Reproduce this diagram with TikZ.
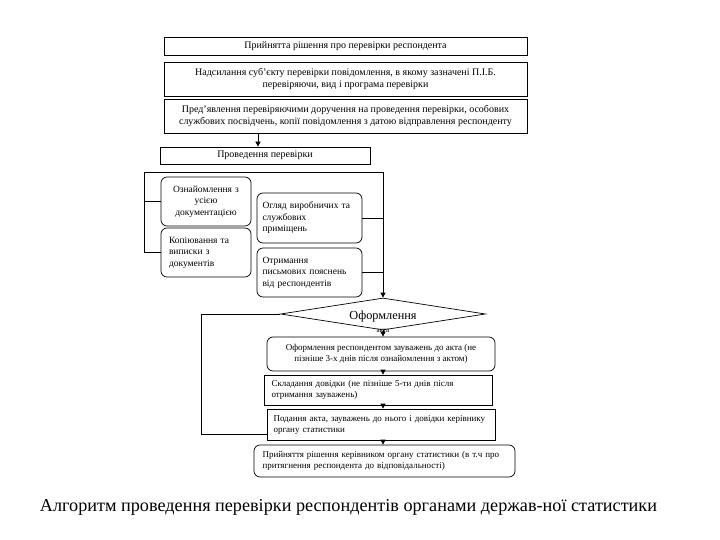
\documentclass[tikz,border=0pt]{standalone}
\usepackage{fontspec}
\setmainfont{Liberation Serif}
\usetikzlibrary{shapes.geometric,arrows.meta,calc}
\tikzset{
  box/.style={draw, line width=0.7pt, inner sep=2pt, align=center, font=\fontsize{10}{12}\selectfont},
  rbox/.style={box, rounded corners=6pt},
  smallf/.style={font=\fontsize{9.5}{11.5}\selectfont},
  lowf/.style={font=\fontsize{9}{11}\selectfont},
  arr/.style={line width=0.7pt, -{Triangle[length=5pt,width=5pt]}},
  ln/.style={line width=0.7pt}
}
\begin{document}
\begin{tikzpicture}[x=1pt,y=-1pt]
\useasboundingbox (0,0) rectangle (720,540);
% top boxes
\node[box, minimum width=363, minimum height=18] (b1) at (345.5,46) {Прийнятта рішення про перевірки респондента};
\node[box, minimum width=363, minimum height=34] (b2) at (345.5,79) {Надсилання суб'єкту перевірки повідомлення, в якому зазначені П.І.Б.\\перевіряючи, вид і програма перевірки};
\node[box, minimum width=363, minimum height=34, inner sep=1pt] (b3) at (345.5,116) {Пред'явлення перевіряючими доручення на проведення перевірки, особових\\службових посвідчень, копії повідомлення з датою відправлення респонденту};
\node[box, minimum width=210, minimum height=17] (b4) at (265,155.5) {Проведення перевірки};
% inner rounded boxes
\node[rbox, smallf, minimum width=90, minimum height=49, text width=86] (b5) at (206,201.5) {Ознайомлення з\\усією\\документацією};
\node[rbox, smallf, minimum width=90, minimum height=49, text width=74, align=left] (b7) at (206,252.5) {Копіювання та\\виписки з\\документів};
\node[rbox, smallf, minimum width=105, minimum height=50, text width=94, align=left] (b6) at (309.5,218) {Огляд виробничих та\\службових\\приміщень};
\node[rbox, smallf, minimum width=105, minimum height=49, text width=94, align=left] (b8) at (309.5,272.5) {Отримання\\письмових пояснень\\від респондентів};
% diamond
\node[draw, ln, diamond, aspect=6.4, minimum width=205, minimum height=32, inner sep=0pt] (d) at (383,314) {};
\node[font=\fontsize{12.3}{13}\selectfont] (dt) at (383,317) {Оформлення};
\node[font=\fontsize{7}{8}\selectfont, inner sep=0pt] (dl) at (383,331) {акта};
% lower boxes
\node[rbox, lowf, minimum width=228, minimum height=34] (b10) at (381,354) {Оформлення респондентом зауважень до акта (не\\пізніше 3-х днів після ознайомлення з актом)};
\node[box, lowf, minimum width=228, minimum height=30, text width=213, align=left] (b11) at (378,390) {Складання довідки (не пізніше 5-ти днів після\\отримання зауважень)};
\node[box, lowf, minimum width=228, minimum height=31, text width=215, align=left] (b12) at (381,424.5) {Подання акта, зауважень до нього і довідки керівнику\\органу статистики};
\node[rbox, lowf, minimum width=261, minimum height=32, text width=244, align=left] (b13) at (384.5,461) {Прийняття рішення керівником органу статистики (в т.ч про\\притягнення респондента до відповідальності)};
% caption
\node[font=\fontsize{18.2}{20}\selectfont] (cap) at (348.5,507) {Алгоритм проведення перевірки респондентів органами держав-ної статистики};
% connectors
\coordinate (c1) at (258,0);
\draw[arr] (b3.south -| c1) -- (b4.north -| c1);
\coordinate (L) at (144,172);
\coordinate (R) at (383,172);
\draw[arr] (b5.west) -| (L) -- (R) -- (d.north);
\draw[ln] (b7.west) -| (L);
\draw[ln] (b6.east) -| (R);
\draw[ln] (b8.east) -| (R);
\draw[arr] (d.south) -- (d.south |- b10.north);
\draw[arr] (b10.south -| d.south) -- (b11.north -| d.south);
\draw[arr] (b11.south -| d.south) -- (b12.north -| d.south);
\draw[arr] (b12.south -| d.south) -- (b13.north -| d.south);
\coordinate (LL) at (201,434);
\draw[ln] ($(b12.west)+(0,9.5)$) -- (LL) |- (d.west);
\end{tikzpicture}
\end{document}
